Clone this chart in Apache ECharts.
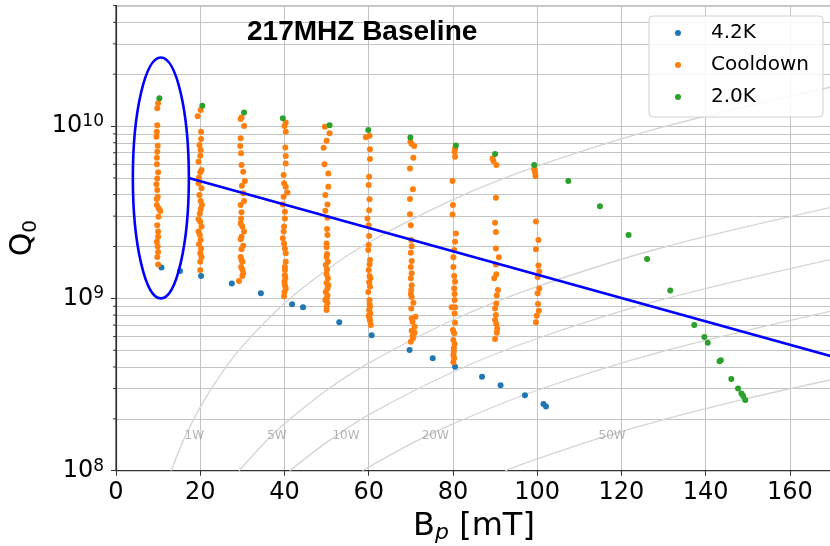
<!DOCTYPE html>
<html>
<head>
<meta charset="utf-8">
<script src="https://cdn.jsdelivr.net/npm/echarts@6/dist/echarts.min.js"></script>
<style>html,body{margin:0;padding:0;background:#fff;}#c{width:830px;height:546px;}</style>
</head>
<body>
<div id="c"></div>
<script>
// ---- data ----
const titleText = '217MHZ Baseline';
const seriesNames = ['4.2K', 'Cooldown', '2.0K'];
const yTickExponents = [8, 9, 10];

const blue42K = [[10.8,1.51e9],[15.2,1.44e9],[20.2,1.35e9],[27.5,1.22e9],[34.4,1.07e9],[41.8,9.23e8],[44.4,8.87e8],[53.0,7.26e8],[60.7,6.10e8],[69.7,5.01e8],[75.2,4.49e8],[80.5,4.01e8],[86.9,3.51e8],[91.3,3.13e8],[97.1,2.74e8],[101.5,2.44e8],[102.1,2.36e8]];

const green20K = [[10.3,1.45e10],[20.5,1.31e10],[30.4,1.20e10],[39.6,1.11e10],[50.7,1.01e10],[59.9,9.48e9],[69.9,8.59e9],[80.7,7.70e9],[90.0,6.88e9],[99.3,5.94e9],[107.4,4.80e9],[114.9,3.43e9],[121.7,2.33e9],[126.1,1.69e9],[131.6,1.11e9],[137.3,7.00e8],[139.7,5.96e8],[140.5,5.52e8],[143.3,4.32e8],[143.6,4.38e8],[146.1,3.41e8],[147.7,3.00e8],[148.5,2.81e8],[148.9,2.71e8],[149.4,2.57e8]];

const cd10 = [[10.0,1.355e10],[9.8,1.27e10],[9.8,1.01e10],[9.7,9.27e9],[9.6,8.67e9],[9.9,7.69e9],[9.8,7.10e9],[9.7,6.55e9],[9.7,6.00e9],[10.0,5.39e9],[9.8,4.97e9],[9.6,4.59e9],[9.8,4.25e9],[9.9,3.89e9],[9.7,3.77e9],[9.7,3.48e9],[10.1,3.33e9],[10.5,3.21e9],[10.1,2.98e9],[9.8,2.66e9],[10.0,2.44e9],[10.0,2.28e9],[9.7,2.13e9],[9.9,2.00e9],[10.0,1.86e9],[9.8,1.74e9],[10.0,1.57e9]];
const cd20 = [[20.1,1.24e10],[19.4,1.14e10],[20.2,9.27e9],[20.2,8.41e9],[19.8,7.76e9],[20.1,7.26e9],[20.0,6.73e9],[19.6,6.21e9],[20.3,5.56e9],[20.0,5.39e9],[19.7,5.01e9],[19.6,4.65e9],[20.3,4.35e9],[19.8,3.98e9],[20.1,3.67e9],[20.4,3.48e9],[20.1,3.30e9],[19.9,3.11e9],[19.6,2.88e9],[20.0,2.78e9],[20.3,2.61e9],[19.6,2.44e9],[19.9,2.33e9],[20.1,2.18e9],[19.7,2.06e9],[20.2,1.95e9],[20.0,1.83e9],[20.3,1.74e9],[20.0,1.63e9],[20.0,1.46e9]];
const cd30 = [[29.8,1.12e10],[29.6,1.10e10],[30.4,1.00e10],[29.6,8.49e9],[29.5,7.65e9],[29.7,6.95e9],[29.8,5.94e9],[30.2,5.43e9],[30.6,4.80e9],[29.9,4.51e9],[30.2,4.07e9],[30.4,3.67e9],[29.6,3.48e9],[29.8,3.16e9],[29.7,2.91e9],[29.6,2.72e9],[30.0,2.61e9],[30.4,2.44e9],[29.8,2.28e9],[29.6,2.20e9],[30.2,2.02e9],[29.8,1.93e9],[29.6,1.74e9],[29.8,1.67e9],[30.0,1.63e9],[29.7,1.52e9],[30.0,1.47e9],[30.2,1.40e9],[30.0,1.35e9],[29.2,1.26e9]];
const cd40 = [[40.3,1.05e10],[40.0,1.00e10],[40.3,9.27e9],[40.2,7.52e9],[40.3,6.70e9],[40.3,6.07e9],[39.8,5.20e9],[39.9,4.65e9],[40.3,4.45e9],[40.7,4.12e9],[39.8,3.89e9],[39.6,3.51e9],[40.1,3.18e9],[40.1,2.91e9],[39.9,2.61e9],[39.8,2.44e9],[39.6,2.23e9],[39.9,2.08e9],[40.1,1.95e9],[40.3,1.83e9],[40.3,1.63e9],[40.1,1.52e9],[40.1,1.46e9],[40.1,1.36e9],[40.2,1.31e9],[40.0,1.25e9],[40.1,1.19e9],[40.3,1.14e9],[40.0,1.09e9],[39.9,1.03e9]];
const cd50 = [[49.6,9.91e9],[50.7,9.08e9],[50.0,8.22e9],[49.3,7.48e9],[49.5,6.00e9],[50.4,5.31e9],[50.4,4.45e9],[49.7,3.98e9],[50.2,3.51e9],[49.7,3.22e9],[50.2,2.94e9],[50.1,2.53e9],[50.2,2.33e9],[50.0,2.08e9],[50.0,1.98e9],[50.1,1.81e9],[50.0,1.74e9],[50.3,1.63e9],[49.8,1.56e9],[50.1,1.47e9],[50.0,1.38e9],[50.3,1.31e9],[50.0,1.23e9],[50.4,1.19e9],[50.2,1.14e9],[49.8,1.09e9],[50.2,1.04e9],[50.0,1.00e9],[49.7,9.78e8],[50.2,9.43e8],[50.0,8.93e8],[50.0,8.55e8]];
const cd60 = [[59.3,8.60e9],[60.2,8.79e9],[60.3,7.33e9],[60.3,6.43e9],[60.1,5.08e9],[60.0,4.55e9],[60.2,3.76e9],[60.1,3.25e9],[59.7,2.91e9],[60.0,2.66e9],[60.1,2.30e9],[60.0,2.04e9],[59.9,1.91e9],[60.3,1.67e9],[60.2,1.58e9],[60.0,1.46e9],[60.2,1.35e9],[60.4,1.31e9],[60.1,1.24e9],[60.3,1.17e9],[59.9,1.09e9],[60.2,9.78e8],[60.2,9.27e8],[60.3,8.93e8],[60.1,8.55e8],[60.4,8.18e8],[60.0,7.93e8],[60.2,7.66e8],[60.3,7.42e8],[60.5,7.00e8]];
const cd70 = [[69.9,8.11e9],[70.2,7.86e9],[70.8,7.66e9],[70.6,6.55e9],[69.8,5.68e9],[70.5,4.30e9],[69.8,3.77e9],[69.8,3.08e9],[70.0,2.66e9],[70.1,2.18e9],[70.2,2.01e9],[70.0,1.84e9],[70.2,1.65e9],[70.0,1.52e9],[70.2,1.40e9],[70.0,1.31e9],[70.2,1.19e9],[70.1,1.12e9],[70.0,1.06e9],[70.2,1.02e9],[70.6,9.43e8],[70.1,8.74e8],[71.1,7.82e8],[70.2,7.66e8],[70.4,7.32e8],[70.9,6.84e8],[70.2,6.49e8],[70.9,6.31e8],[70.4,6.04e8],[70.5,5.86e8],[70.0,5.60e8]];
const cd80 = [[80.5,7.41e9],[80.4,7.10e9],[80.5,6.64e9],[79.9,4.80e9],[80.0,3.48e9],[79.9,3.07e9],[80.7,2.38e9],[80.5,2.13e9],[80.3,1.91e9],[80.1,1.73e9],[80.1,1.52e9],[80.3,1.35e9],[80.5,1.25e9],[80.3,1.14e9],[80.4,1.06e9],[80.4,9.78e8],[79.7,8.87e8],[80.5,8.87e8],[80.4,8.18e8],[80.5,7.22e8],[80.0,6.55e8],[80.3,6.27e8],[80.1,5.73e8],[80.4,5.43e8],[80.2,5.13e8],[80.2,4.90e8],[80.1,4.69e8],[80.3,4.49e8],[80.1,4.26e8]];
const cd90 = [[89.4,6.49e9],[89.6,6.26e9],[90.3,5.94e9],[90.2,3.84e9],[90.0,2.75e9],[90.2,2.43e9],[90.2,1.95e9],[90.9,1.73e9],[90.2,1.57e9],[90.3,1.38e9],[89.8,1.31e9],[90.7,1.12e9],[90.4,1.04e9],[90.3,9.35e8],[90.0,8.74e8],[90.2,8.00e8],[90.0,7.48e8],[90.3,7.10e8],[90.5,6.67e8],[90.4,6.31e8],[90.0,5.82e8]];
const cd100 = [[99.3,5.61e9],[99.5,5.39e9],[99.6,5.13e9],[99.7,2.79e9],[100.3,2.18e9],[99.7,1.93e9],[100.3,1.55e9],[100.5,1.43e9],[100.1,1.33e9],[100.5,1.14e9],[100.1,1.07e9],[100.2,9.27e8],[100.4,8.47e8],[99.9,7.93e8],[99.7,7.28e8]];

// constant-power reference curves
const curve1W  = [[13.1,1.0e8],[16,1.50e8],[20,2.34e8],[25,3.66e8],[30,5.27e8],[40,9.36e8],[50,1.46e9],[60,2.11e9],[80,3.74e9],[100,5.85e9],[130,9.89e9],[170,1.69e10]];
const curve5W  = [[29.2,1.0e8],[35,1.43e8],[40,1.87e8],[50,2.93e8],[60,4.21e8],[80,7.49e8],[100,1.17e9],[130,1.98e9],[170,3.38e9]];
const curve10W = [[41.3,1.0e8],[50,1.46e8],[60,2.11e8],[80,3.74e8],[100,5.85e8],[130,9.89e8],[170,1.69e9]];
const curve20W = [[58.5,1.0e8],[70,1.43e8],[80,1.87e8],[100,2.93e8],[130,4.94e8],[170,8.45e8]];
const curve50W = [[92.4,1.0e8],[100,1.17e8],[115,1.55e8],[130,1.98e8],[150,2.63e8],[170,3.38e8]];
const powerNames = ['1W', '5W', '10W', '20W', '50W'];
const powerLabelX = [18.6, 38.2, 54.6, 75.8, 117.8];
const powerLabelQ = [1.6e8, 1.6e8, 1.6e8, 1.6e8, 1.6e8];

// hand-drawn annotation (blue trend line and ellipse) in data units
const trendLine = [[17.3, 5.0e9], [170, 4.6e8]];
const ellipseBox = [[4.0, 2.5e10], [17.3, 1.0e9]];

// ---- chart ----
const cooldown = [].concat(cd10, cd20, cd30, cd40, cd50, cd60, cd70, cd80, cd90, cd100);
const minorValues = [];
for (let e = 8; e <= 10; e++) for (let k = 2; k <= 9; k++) { const v = k * Math.pow(10, e); if (v <= 5e10) minorValues.push(v); }
const minorGrid = minorValues.map(v => ({ yAxis: v }));

const FONT = 'DejaVu Sans';
const curveStyle = { color: '#d4d4d4', width: 1.3 };
function curveSeries(name, data, extra) {
  return Object.assign({ type: 'line', name: name, data: data, smooth: 0.3, showSymbol: false, symbol: 'none', silent: true, z: 1, lineStyle: curveStyle, itemStyle: { color: '#d4d4d4' }, clip: true }, extra || {});
}

const chart = echarts.init(document.getElementById('c'), null, { renderer: 'canvas' });
chart.setOption({
  animation: false,
  backgroundColor: '#fff',
  title: { text: titleText, left: 247, top: 18, padding: 0, textStyle: { fontFamily: 'Liberation Sans', fontWeight: 'bold', fontSize: 28, color: '#000', lineHeight: 28 } },
  grid: { left: 116, top: 5.6, right: -2, bottom: 75.3, show: true, borderColor: '#333', borderWidth: 1.2, containLabel: false, outerBoundsMode: 'none' },
  legend: {
    data: seriesNames, orient: 'vertical', left: 649, top: 16,
    padding: [6, 14, 9, 26], itemGap: 10, itemWidth: 56, itemHeight: 6, icon: 'circle',
    backgroundColor: 'rgba(255,255,255,0.85)', borderColor: '#d0d0d0', borderWidth: 1, borderRadius: 4,
    textStyle: { fontFamily: FONT, fontSize: 20, color: '#000', lineHeight: 22 }
  },
  xAxis: {
    type: 'value', min: 0, max: 170, interval: 20,
    name: '{a|B}{s|p}{a| [mT]}', nameLocation: 'middle', nameGap: 38,
    nameTextStyle: { rich: { a: { fontFamily: FONT, fontSize: 32, color: '#000', lineHeight: 36, verticalAlign: 'middle' }, s: { fontFamily: FONT, fontSize: 22, fontStyle: 'italic', color: '#000', lineHeight: 18, verticalAlign: 'bottom' } } },
    axisLine: { show: true, lineStyle: { color: '#333', width: 1.2 } },
    axisTick: { show: true, length: 5, lineStyle: { color: '#333' } },
    axisLabel: { showMaxLabel: false, margin: 10, fontFamily: FONT, fontSize: 24, color: '#000', lineHeight: 24 },
    splitLine: { show: true, lineStyle: { color: '#c4c4c4', width: 1 } }
  },
  yAxis: {
    type: 'log', logBase: 10, min: 1e8, max: 5e10, interval: 1,
    name: '{a|Q}{s|0}', nameLocation: 'middle', nameGap: 72, nameRotate: 90,
    nameTextStyle: { rich: { a: { fontFamily: FONT, fontSize: 30, color: '#000', lineHeight: 36, verticalAlign: 'middle' }, s: { fontFamily: FONT, fontSize: 20, color: '#000', lineHeight: 20, verticalAlign: 'bottom' } } },
    axisLine: { show: true, lineStyle: { color: '#333', width: 1.2 } },
    axisTick: { show: true, length: 5, lineStyle: { color: '#333' } },
    axisLabel: {
      showMaxLabel: false, margin: 12,
      formatter: function (v) { const e = Math.round(Math.log10(v)); return yTickExponents.indexOf(e) >= 0 ? '{b|10}{s|' + e + '}' : ''; },
      rich: { b: { fontFamily: FONT, fontSize: 24, color: '#000', lineHeight: 26, verticalAlign: 'middle' }, s: { fontFamily: FONT, fontSize: 17, color: '#000', lineHeight: 16, verticalAlign: 'top' } }
    },
    splitLine: { show: true, lineStyle: { color: '#c4c4c4', width: 1 } }
  },
  series: [
    curveSeries('p1', curve1W, { markLine: { silent: true, symbol: 'none', label: { show: false }, lineStyle: { color: '#c4c4c4', width: 1, type: 'solid' }, data: minorGrid, z: 0 } }),
    curveSeries('p5', curve5W),
    curveSeries('p10', curve10W),
    curveSeries('p20', curve20W),
    curveSeries('p50', curve50W),
    { type: 'custom', name: 'minorTicks', silent: true, clip: false, z: 6,
      data: minorValues.map(v => [0, v]), encode: { x: 0, y: 1 },
      renderItem: function (params, api) {
        const p = api.coord([api.value(0), api.value(1)]);
        return { type: 'line', shape: { x1: p[0] - 3, y1: p[1], x2: p[0], y2: p[1] }, style: { stroke: '#333', lineWidth: 1 } };
      } },
    { type: 'scatter', name: 'plabels', silent: true, symbolSize: 0, z: 2,
      data: powerNames.map((n, i) => ({ name: n, value: [powerLabelX[i], powerLabelQ[i]] })),
      label: { show: true, position: 'inside', formatter: '{b}', fontFamily: FONT, fontSize: 12, color: '#a0a0a0' } },
    { type: 'scatter', name: seriesNames[0], data: blue42K, symbolSize: 6, itemStyle: { color: '#1f77b4', opacity: 1 }, z: 3 },
    { type: 'scatter', name: seriesNames[1], data: cooldown, symbolSize: 6, itemStyle: { color: '#ff7f0e', opacity: 1 }, z: 3 },
    { type: 'scatter', name: seriesNames[2], data: green20K, symbolSize: 6, itemStyle: { color: '#2ca02c', opacity: 1 }, z: 4 },
    { type: 'line', name: 'trend', data: trendLine, showSymbol: false, symbol: 'none', silent: true, z: 5, lineStyle: { color: '#0000ff', width: 2.6 } },
    { type: 'custom', name: 'ellipse', silent: true, z: 5, data: [ellipseBox[0].concat(ellipseBox[1])],
      encode: { x: [0, 2], y: [1, 3] },
      renderItem: function (params, api) {
        const p0 = api.coord([api.value(0), api.value(1)]);
        const p1 = api.coord([api.value(2), api.value(3)]);
        return { type: 'ellipse', shape: { cx: (p0[0] + p1[0]) / 2, cy: (p0[1] + p1[1]) / 2, rx: Math.abs(p1[0] - p0[0]) / 2, ry: Math.abs(p1[1] - p0[1]) / 2 },
          style: { stroke: '#0000ff', fill: 'none', lineWidth: 2.6 } };
      } }
  ]
});
</script>
</body>
</html>
